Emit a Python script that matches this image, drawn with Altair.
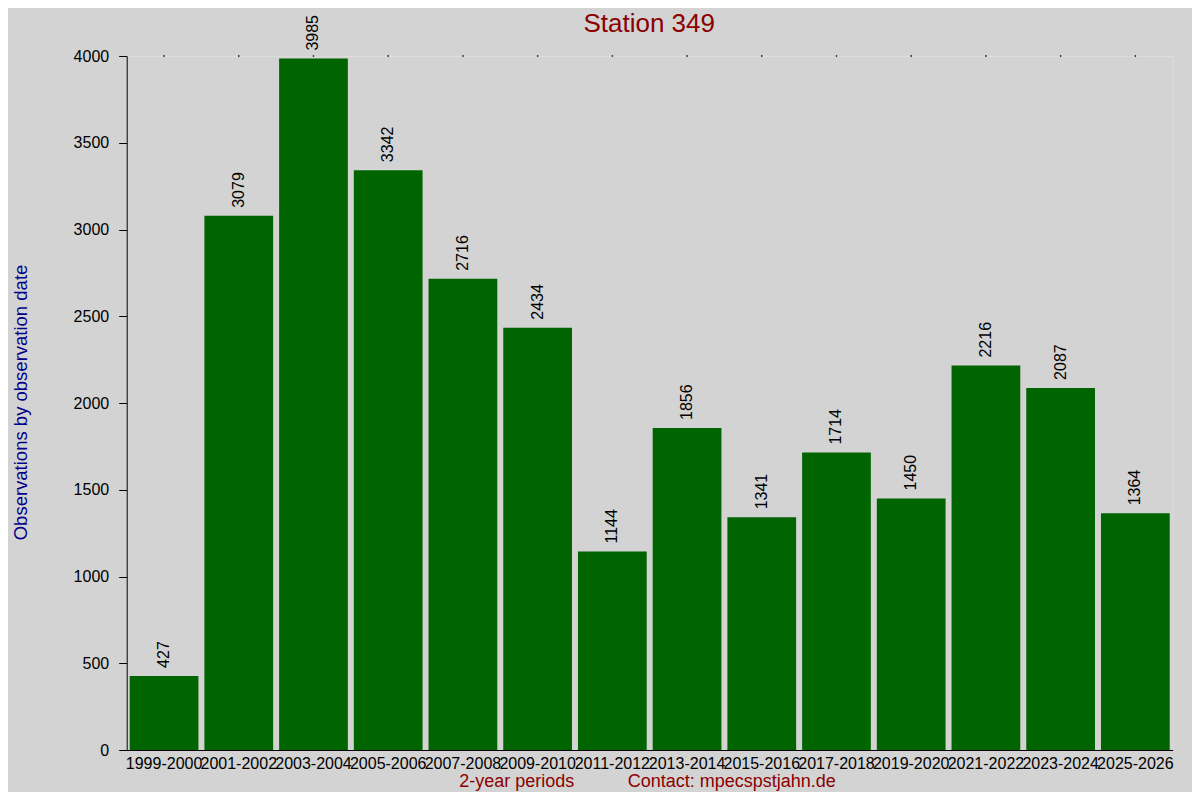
import altair as alt
import pandas as pd

periods = ["1999-2000", "2001-2002", "2003-2004", "2005-2006", "2007-2008",
           "2009-2010", "2011-2012", "2013-2014", "2015-2016", "2017-2018",
           "2019-2020", "2021-2022", "2023-2024", "2025-2026"]
counts = [427, 3079, 3985, 3342, 2716, 2434, 1144, 1856, 1341, 1714,
          1450, 2216, 2087, 1364]
y_ticks = [0, 500, 1000, 1500, 2000, 2500, 3000, 3500, 4000]
y_max = 4000

title_text = "Station 349"
y_title = "Observations by observation date"
x_title = "2-year periods"
contact = "Contact: mpecspstjahn.de"

FONT = "Liberation Sans"
BG = "#d3d3d3"
df = pd.DataFrame({"period": periods, "count": counts})
df["top"] = y_max

W, H = 1046, 694

x_enc = alt.X("period:N", sort=periods,
              scale=alt.Scale(paddingInner=0.08, paddingOuter=0.04),
              axis=alt.Axis(title=None, labelAngle=0, ticks=False, labelPadding=5,
                            labelFontSize=16, labelColor="black", labelFont=FONT,
                            domainColor="black", domainWidth=1, grid=False,
                            labelOverlap=False, labelFlush=False))
y_enc = alt.Y("count:Q", scale=alt.Scale(domain=[0, y_max], nice=False),
              axis=alt.Axis(title=None, values=y_ticks, format="d", tickSize=8,
                            labelPadding=10, labelFontSize=16, labelColor="black",
                            labelFont=FONT, domainColor="black", tickColor="black",
                            grid=False))

base = alt.Chart(df)
bars = base.mark_bar(color="#006400").encode(x=x_enc, y=y_enc)
labels = base.mark_text(angle=270, align="left", baseline="middle", dx=8,
                        fontSize=16, font=FONT, color="black").encode(
    x=alt.X("period:N", sort=periods), y="count:Q", text="count:Q")
dots = base.mark_square(size=2, color="black", opacity=1).encode(
    x=alt.X("period:N", sort=periods), y="top:Q")

one = pd.DataFrame({"k": [0]})
t_title = alt.Chart(one).mark_text(text=title_text, fontSize=26, font=FONT,
                                   color="#8b0000", align="center",
                                   baseline="alphabetic").encode(
    x=alt.value(522.5), y=alt.value(-24))
t_ytitle = alt.Chart(one).mark_text(text=y_title, fontSize=18.5, font=FONT,
                                    color="#00008b", align="center", angle=270,
                                    baseline="middle").encode(
    x=alt.value(-106), y=alt.value(346.5))
t_xtitle = alt.Chart(one).mark_text(text=x_title, fontSize=18, font=FONT,
                                    color="#8b0000", align="center",
                                    baseline="alphabetic").encode(
    x=alt.value(390), y=alt.value(731))
t_contact = alt.Chart(one).mark_text(text=contact, fontSize=18, font=FONT,
                                     color="#8b0000", align="center",
                                     baseline="alphabetic").encode(
    x=alt.value(605), y=alt.value(731))

chart = alt.layer(bars, labels, dots, t_title, t_ytitle, t_xtitle, t_contact).properties(
    width=W, height=H,
    background=BG,
    autosize=alt.AutoSizeParams(type="none"),
    padding={"left": 118.7, "top": 48, "right": 19.3, "bottom": 42},
).configure_view(stroke="transparent", strokeWidth=0).configure(font=FONT)

chart.save("out.html", embed_options={"renderer": "svg", "actions": False})
